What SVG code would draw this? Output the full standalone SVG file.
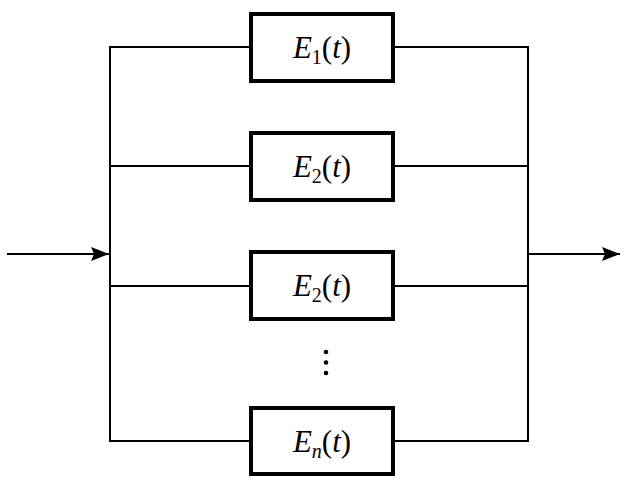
<svg xmlns="http://www.w3.org/2000/svg" width="632" height="485" viewBox="0 0 632 485">
<style>
.box{fill:#fff;stroke:#000;stroke-width:4}
.ln{fill:none;stroke:#000;stroke-width:2}
.t{font-family:"Liberation Serif","Times New Roman",serif;font-size:31px;fill:#000;text-anchor:middle}
.i{font-style:italic}
.s{font-size:20px}
</style>
<defs>
<marker id="ah" viewBox="0 0 18 14" refX="18" refY="7" markerWidth="18" markerHeight="14" markerUnits="userSpaceOnUse" orient="auto">
<path d="M0,0 L18,7 L0,14 L3,7 Z" fill="#000"/>
</marker>
</defs>
<g id="connectors">
<path class="ln" d="M251,47 H110 V441 H251"/>
<path class="ln" d="M393,47 H528 V441 H393"/>
<path class="ln" d="M110,166 H251 M110,286 H251"/>
<path class="ln" d="M393,166 H528 M393,286 H528"/>
<path class="ln" d="M7,254 H109" marker-end="url(#ah)"/>
<path class="ln" d="M528,254 H620" marker-end="url(#ah)"/>
</g>
<g id="e1">
<rect class="box" x="251" y="14" width="142" height="67"/>
<text class="t" x="322" y="58"><tspan class="i">E</tspan><tspan class="s" dy="6">1</tspan><tspan dy="-6">(</tspan><tspan class="i">t</tspan>)</text>
</g>
<g id="e2">
<rect class="box" x="251" y="133" width="142" height="67"/>
<text class="t" x="322" y="177"><tspan class="i">E</tspan><tspan class="s" dy="6">2</tspan><tspan dy="-6">(</tspan><tspan class="i">t</tspan>)</text>
</g>
<g id="e3">
<rect class="box" x="251" y="252" width="142" height="67"/>
<text class="t" x="322" y="296"><tspan class="i">E</tspan><tspan class="s" dy="6">2</tspan><tspan dy="-6">(</tspan><tspan class="i">t</tspan>)</text>
</g>
<g id="dots">
<circle cx="326" cy="352" r="2.3"/>
<circle cx="326" cy="362.5" r="2.3"/>
<circle cx="326" cy="373" r="2.3"/>
</g>
<g id="en">
<rect class="box" x="251" y="408" width="142" height="66"/>
<text class="t" x="322" y="452"><tspan class="i">E</tspan><tspan class="s i" dy="6">n</tspan><tspan dy="-6">(</tspan><tspan class="i">t</tspan>)</text>
</g>
</svg>
